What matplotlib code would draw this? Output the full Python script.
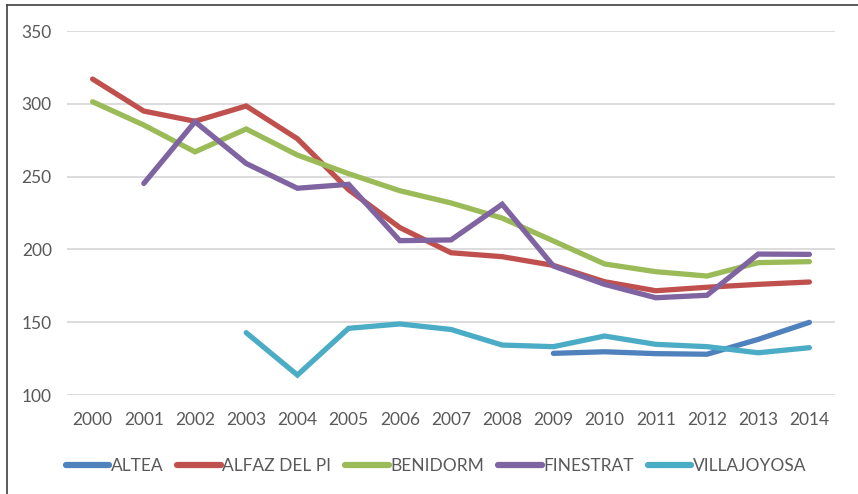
import matplotlib
matplotlib.use("Agg")
import matplotlib.pyplot as plt
import numpy as np
from matplotlib.lines import Line2D

years = [str(y) for y in range(2000, 2015)]
nan = np.nan
altea = [nan, nan, nan, nan, nan, nan, nan, nan, nan, 128.6, 129.7, 128.4, 128.0, 138.2, 149.9]
alfaz = [317, 295, 288, 298.5, 276, 241, 215, 197.7, 195, 189, 177.8, 171.6, 174, 176, 177.6]
benidorm = [301.4, 285.4, 267, 282.7, 264.8, 252, 240.3, 231.9, 221.5, 205.8, 190, 184.7, 181.7, 190.9, 191.6]
finestrat = [nan, 245.3, 287.7, 259, 242, 244.7, 206, 206.5, 231, 188.6, 176, 166.8, 168.5, 196.8, 196.6]
villajoyosa = [nan, nan, nan, 142.8, 113.7, 145.8, 148.8, 145, 134.3, 133.2, 140.5, 134.8, 133.2, 129, 132.5]

series_names = ["ALTEA", "ALFAZ DEL PI", "BENIDORM", "FINESTRAT", "VILLAJOYOSA"]
series_values = [altea, alfaz, benidorm, finestrat, villajoyosa]
colors = ["#4F81BD", "#C0504D", "#9BBB59", "#8064A2", "#4BACC6"]
yticks = [100, 150, 200, 250, 300, 350]

plt.rcParams['font.family'] = ['Lato', 'DejaVu Sans']
text_color = "#595959"

fig = plt.figure(figsize=(8.58, 4.94), dpi=100)
ax = fig.add_axes([67/858, 1-395/494, (835-67)/858, (395-31)/494])

x = np.arange(len(years))
for name, vals, c in zip(series_names, series_values, colors):
    ax.plot(x, vals, color=c, lw=3.8, label=name,
            solid_capstyle='round', solid_joinstyle='miter')

ax.set_xlim(-0.5, len(years) - 0.5)
ax.set_ylim(100, 350)
ax.set_yticks(yticks)
ax.set_xticks(x)
ax.set_xticklabels(years)
ax.grid(axis='y', color='#D9D9D9', lw=1.3)
ax.set_axisbelow(True)
for s in ax.spines.values():
    s.set_visible(False)
ax.tick_params(axis='both', length=0, labelsize=12.5, colors=text_color)
ax.tick_params(axis='y', pad=11)
ax.tick_params(axis='x', pad=12)

handles = [Line2D([0], [0], color=c, lw=4.5, solid_capstyle='round') for c in colors]
fig.legend(handles, series_names, loc='center', bbox_to_anchor=(436/858, 1-466/494),
           ncol=5, frameon=False, fontsize=12.5, labelcolor=text_color,
           handlelength=2.5, handletextpad=0.1, columnspacing=0.8)

# outer frame lines (left and top)
fig.add_artist(Line2D([6.5/858, 6.5/858], [0, 1-5.5/494], color='#404040', lw=1.2, transform=fig.transFigure))
fig.add_artist(Line2D([6.5/858, 1], [1-5.5/494, 1-5.5/494], color='#404040', lw=1.2, transform=fig.transFigure))

fig.savefig("out.png", dpi=100)
